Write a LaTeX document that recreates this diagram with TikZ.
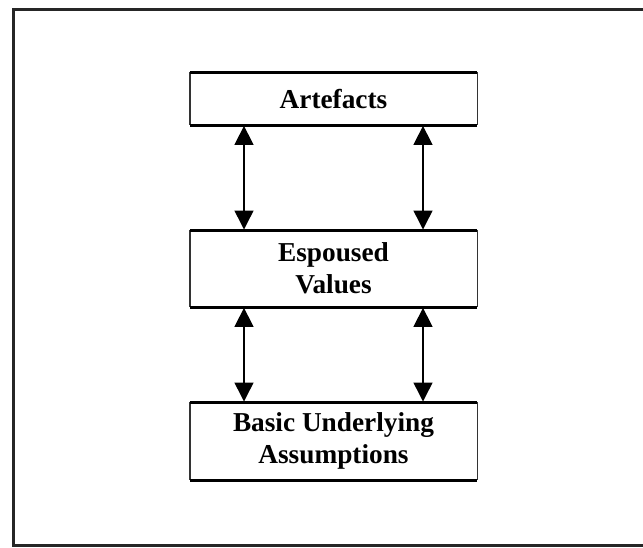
\documentclass[tikz,border=0pt]{standalone}
\usepackage{fontspec}
\setmainfont{Liberation Serif}
\usetikzlibrary{arrows.meta}
\tikzset{
  layerbox/.style={draw=none, fill=white, minimum width=287pt, anchor=north,
    align=center, inner sep=0pt,
    font=\fontsize{27.3}{32}\selectfont\bfseries},
  hedge/.style={line width=3pt, black},
  vedge/.style={line width=1.4pt, black!80},
  framestyle/.style={line width=3pt, black!85},
  linkarrow/.style={line width=1.5pt, {Triangle[width=19pt,length=19pt]}-{Triangle[width=19pt,length=19pt]}, shorten <=0.5pt, shorten >=0.5pt}
}
\begin{document}
\begin{tikzpicture}[x=1pt,y=-1pt]
  \useasboundingbox (0,0) rectangle (643,547);
  \clip (0,0) rectangle (643,547);
  \fill[white] (0,0) rectangle (643,547);

  % outer frame (its right side runs off the page)
  \draw[framestyle] (660,9.5) -- (13.5,9.5) -- (13.5,545.5) -- (660,545.5);

  % the three layers
  \node[layerbox, minimum height=53pt] (art) at (333.5,72) {Artefacts};
  \node[layerbox, minimum height=77pt] (esp) at (333.5,230) {Espoused\\Values};
  \node[layerbox, minimum height=78pt] (bua) at (333.5,402) {Basic Underlying\\Assumptions};

  \foreach \b in {art,esp,bua}{
    \draw[vedge] (\b.north west) -- (\b.south west);
    \draw[vedge] (\b.north east) -- (\b.south east);
    \draw[hedge] (\b.north west) -- (\b.north east);
    \draw[hedge] (\b.south west) -- (\b.south east);
  }

  % arrow columns
  \coordinate (L) at (244,0);
  \coordinate (R) at (423,0);

  \draw[linkarrow] (art.south -| L) -- (esp.north -| L);
  \draw[linkarrow] (art.south -| R) -- (esp.north -| R);
  \draw[linkarrow] (esp.south -| L) -- (bua.north -| L);
  \draw[linkarrow] (esp.south -| R) -- (bua.north -| R);
\end{tikzpicture}
\end{document}
